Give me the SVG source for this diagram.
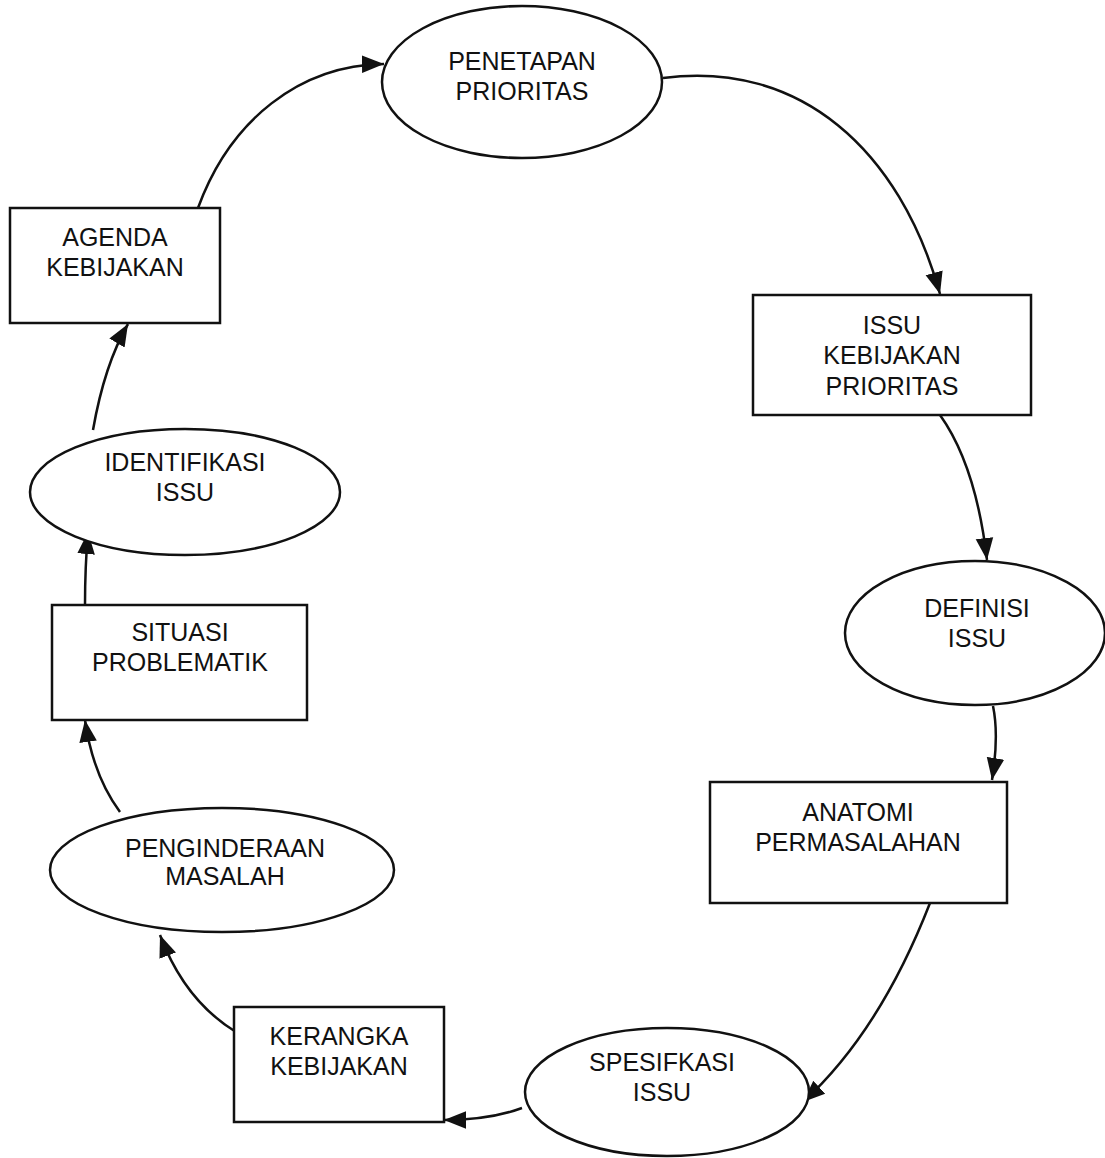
<svg xmlns="http://www.w3.org/2000/svg" width="1105" height="1158" viewBox="0 0 1105 1158">
<style>
.n{fill:#fff;stroke:#111;stroke-width:2.5}
.t{font-family:"Liberation Sans",Arial,sans-serif;font-size:25px;fill:#111;text-anchor:middle}
.c{fill:none;stroke:#111;stroke-width:2.5}
</style>
<defs>
<marker id="b" viewBox="0 0 10 10" refX="10" refY="5" markerWidth="22" markerHeight="22" markerUnits="userSpaceOnUse" orient="auto">
<path d="M0,1 L10,5 L0,9 Z" fill="#111"/>
</marker>
</defs>
<rect width="1105" height="1158" fill="#fff"/>
<g id="connectors">
<path class="c" marker-end="url(#b)" d="M198,208 C230,120 300,65 384,64"/>
<path class="c" marker-end="url(#b)" d="M663,78 C800,60 900,150 940,294"/>
<path class="c" marker-end="url(#b)" d="M940,415 C965,450 980,500 987,560"/>
<path class="c" marker-end="url(#b)" d="M993,706 C998,730 996,755 992,780"/>
<path class="c" marker-end="url(#b)" d="M930,903 C900,980 860,1050 803,1102"/>
<path class="c" marker-end="url(#b)" d="M522,1108 C495,1118 470,1120 444,1120"/>
<path class="c" marker-end="url(#b)" d="M236,1032 C200,1010 175,975 160,935"/>
<path class="c" marker-end="url(#b)" d="M120,812 C100,785 90,755 85,720"/>
<path class="c" marker-end="url(#b)" d="M85,605 C85,580 86,555 88,532"/>
<path class="c" marker-end="url(#b)" d="M93,430 C100,390 110,355 128,324"/>
</g>
<g id="penetapan">
<ellipse class="n" cx="522" cy="82" rx="140" ry="76"/>
<text class="t" x="522" y="70">PENETAPAN</text>
<text class="t" x="522" y="100">PRIORITAS</text>
</g>
<g id="agenda">
<rect class="n" x="10" y="208" width="210" height="115"/>
<text class="t" x="115" y="246">AGENDA</text>
<text class="t" x="115" y="276">KEBIJAKAN</text>
</g>
<g id="issu">
<rect class="n" x="753" y="295" width="278" height="120"/>
<text class="t" x="892" y="334">ISSU</text>
<text class="t" x="892" y="364">KEBIJAKAN</text>
<text class="t" x="892" y="395">PRIORITAS</text>
</g>
<g id="definisi">
<ellipse class="n" cx="975" cy="633" rx="130" ry="72"/>
<text class="t" x="977" y="617">DEFINISI</text>
<text class="t" x="977" y="647">ISSU</text>
</g>
<g id="anatomi">
<rect class="n" x="710" y="782" width="297" height="121"/>
<text class="t" x="858" y="821">ANATOMI</text>
<text class="t" x="858" y="851">PERMASALAHAN</text>
</g>
<g id="spesifkasi">
<ellipse class="n" cx="667" cy="1092" rx="142" ry="64"/>
<text class="t" x="662" y="1071">SPESIFKASI</text>
<text class="t" x="662" y="1101">ISSU</text>
</g>
<g id="kerangka">
<rect class="n" x="234" y="1007" width="210" height="115"/>
<text class="t" x="339" y="1045">KERANGKA</text>
<text class="t" x="339" y="1075">KEBIJAKAN</text>
</g>
<g id="penginderaan">
<ellipse class="n" cx="222" cy="870" rx="172" ry="62"/>
<text class="t" x="225" y="857">PENGINDERAAN</text>
<text class="t" x="225" y="885">MASALAH</text>
</g>
<g id="situasi">
<rect class="n" x="52" y="605" width="255" height="115"/>
<text class="t" x="180" y="641">SITUASI</text>
<text class="t" x="180" y="671">PROBLEMATIK</text>
</g>
<g id="identifikasi">
<ellipse class="n" cx="185" cy="492" rx="155" ry="63"/>
<text class="t" x="185" y="471">IDENTIFIKASI</text>
<text class="t" x="185" y="501">ISSU</text>
</g>
</svg>
